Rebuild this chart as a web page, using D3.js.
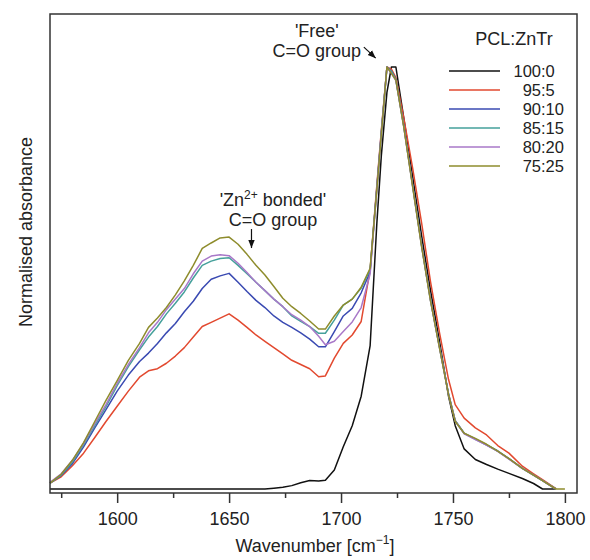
<!DOCTYPE html>
<html>
<head>
<meta charset="utf-8">
<script src="https://cdn.jsdelivr.net/npm/d3@7"></script>
<style>
  body { margin: 0; background: #fff; }
  text { font-family: "Liberation Sans", Arial, Helvetica, sans-serif; fill: #222; }
</style>
</head>
<body>
<svg width="590" height="560"></svg>
<script>
// wavenumber grid (cm-1)
const wavenumbers = [1570, 1575, 1580, 1585, 1590, 1595, 1600, 1605, 1610, 1614, 1618, 1622, 1626, 1630,
  1634, 1638, 1642, 1646, 1650, 1654, 1658, 1662, 1666, 1670, 1674, 1678, 1682, 1686, 1690, 1693, 1697,
  1701, 1705, 1709, 1713, 1716, 1718, 1720.5, 1722.5, 1724.5, 1728, 1732, 1736, 1740, 1744, 1748, 1751,
  1755, 1760, 1765, 1770, 1775, 1781, 1786, 1790, 1796, 1800];

const ratios = ['100:0', '95:5', '90:10', '85:15', '80:20', '75:25'];
const colors = ['#111111', '#e2492f', '#3a4ab2', '#45a09b', '#a878c8', '#8e8c2c'];

const pcl100 = [0, 0, 0, 0, 0, 0, 0, 0, 0, 0, 0, 0, 0, 0,
  0, 0, 0, 0, 0, 0, 0, 0, 0, 0.002, 0.004, 0.008, 0.015, 0.02, 0.019, 0.021, 0.045,
  0.1, 0.15, 0.22, 0.34, 0.63, 0.79, 0.94, 1.0, 1.0, 0.88, 0.74, 0.6, 0.47, 0.35, 0.22, 0.15,
  0.095, 0.07, 0.058, 0.047, 0.037, 0.025, 0.013, 0.0, 0.0, null];
const pcl95 = [0.014, 0.029, 0.055, 0.085, 0.122, 0.16, 0.196, 0.232, 0.265, 0.28, 0.285, 0.298, 0.315, 0.335,
  0.36, 0.385, 0.395, 0.405, 0.415, 0.4, 0.383, 0.365, 0.35, 0.335, 0.32, 0.305, 0.295, 0.285, 0.266, 0.268, 0.31,
  0.345, 0.365, 0.397, 0.52, 0.72, 0.85, 1.0, 0.995, 0.975, 0.88, 0.76, 0.63, 0.49, 0.37, 0.26, 0.2,
  0.168, 0.145, 0.128, 0.103, 0.085, 0.054, 0.036, 0.022, 0.001, null];
const pcl90 = [0.014, 0.032, 0.06, 0.1, 0.145, 0.188, 0.232, 0.27, 0.302, 0.322, 0.345, 0.37, 0.392, 0.42,
  0.445, 0.475, 0.497, 0.505, 0.511, 0.49, 0.468, 0.447, 0.43, 0.41, 0.395, 0.383, 0.37, 0.355, 0.337, 0.337, 0.373,
  0.41, 0.428, 0.465, 0.515, 0.715, 0.845, 1.0, 0.99, 0.97, 0.862, 0.72, 0.578, 0.448, 0.337, 0.226, 0.162,
  0.132, 0.118, 0.104, 0.09, 0.072, 0.049, 0.033, 0.02, 0.0, null];
const pcl85 = [0.014, 0.033, 0.064, 0.105, 0.15, 0.195, 0.245, 0.29, 0.33, 0.36, 0.385, 0.415, 0.44, 0.467,
  0.5, 0.53, 0.54, 0.546, 0.548, 0.53, 0.51, 0.49, 0.47, 0.45, 0.432, 0.41, 0.397, 0.385, 0.369, 0.369, 0.4,
  0.436, 0.45, 0.476, 0.52, 0.712, 0.842, 1.0, 0.99, 0.97, 0.86, 0.718, 0.576, 0.446, 0.335, 0.225, 0.162,
  0.132, 0.118, 0.105, 0.09, 0.072, 0.049, 0.033, 0.02, 0.0, null];
const pcl80 = [0.016, 0.036, 0.068, 0.108, 0.155, 0.2, 0.25, 0.295, 0.335, 0.37, 0.395, 0.425, 0.45, 0.475,
  0.51, 0.54, 0.552, 0.555, 0.553, 0.535, 0.513, 0.49, 0.47, 0.45, 0.432, 0.413, 0.4, 0.385, 0.362, 0.342, 0.35,
  0.373, 0.396, 0.43, 0.51, 0.71, 0.84, 1.0, 0.985, 0.968, 0.86, 0.716, 0.575, 0.445, 0.334, 0.224, 0.161,
  0.131, 0.117, 0.104, 0.089, 0.071, 0.049, 0.033, 0.02, 0.0, null];
const pcl75 = [0.014, 0.035, 0.068, 0.11, 0.16, 0.21, 0.257, 0.305, 0.345, 0.383, 0.405, 0.43, 0.46, 0.493,
  0.53, 0.57, 0.583, 0.595, 0.597, 0.58, 0.556, 0.53, 0.507, 0.48, 0.452, 0.432, 0.416, 0.398, 0.379, 0.379, 0.41,
  0.436, 0.45, 0.478, 0.523, 0.71, 0.84, 1.0, 0.985, 0.969, 0.859, 0.716, 0.574, 0.445, 0.334, 0.224, 0.16,
  0.132, 0.12, 0.106, 0.09, 0.072, 0.049, 0.033, 0.02, 0.0, 0.0];

const xTicks = [1600, 1650, 1700, 1750, 1800];
const xMinorTicks = [1575, 1625, 1675, 1725, 1775];

const seriesValues = [pcl100, pcl95, pcl90, pcl85, pcl80, pcl75];

const frame = { left: 50, top: 14, right: 577, bottom: 493 };

const svg = d3.select('svg');

const x = d3.scaleLinear()
  .domain([1570, 1805.4])
  .range([frame.left, frame.right]);
const y = d3.scaleLinear()
  .domain([0, 1])
  .range([489, 67]);

// curves
const line = d3.line()
  .defined(d => d.v !== null)
  .x(d => x(d.w))
  .y(d => y(d.v));

const plot = svg.append('g');
seriesValues.forEach((vals, i) => {
  const pts = wavenumbers.map((w, j) => ({ w, v: vals[j] }));
  plot.append('path')
    .datum(pts)
    .attr('fill', 'none')
    .attr('stroke', colors[i])
    .attr('stroke-width', 1.5)
    .attr('stroke-linejoin', 'round')
    .attr('d', line);
});

// frame
svg.append('rect')
  .attr('x', frame.left)
  .attr('y', frame.top)
  .attr('width', frame.right - frame.left)
  .attr('height', frame.bottom - frame.top)
  .attr('fill', 'none')
  .attr('stroke', '#333')
  .attr('stroke-width', 1.5);

// x axis
const axisMajor = d3.axisBottom(x)
  .tickValues(xTicks)
  .tickSize(10)
  .tickPadding(9)
  .tickFormat(d3.format('d'));
const gx = svg.append('g')
  .attr('transform', `translate(0,${frame.bottom})`)
  .call(axisMajor);
gx.select('.domain').remove();
gx.selectAll('.tick line').attr('stroke', '#333').attr('stroke-width', 1.5);
gx.selectAll('.tick text')
  .style('font-family', '"Liberation Sans", Arial, sans-serif')
  .style('font-size', '18px')
  .attr('fill', '#222');

const axisMinor = d3.axisBottom(x)
  .tickValues(xMinorTicks)
  .tickSize(5)
  .tickFormat('');
const gxm = svg.append('g')
  .attr('transform', `translate(0,${frame.bottom})`)
  .call(axisMinor);
gxm.select('.domain').remove();
gxm.selectAll('.tick line').attr('stroke', '#333').attr('stroke-width', 1.5);

// axis titles
const xTitle = svg.append('text')
  .attr('x', 315)
  .attr('y', 552)
  .attr('text-anchor', 'middle')
  .style('font-size', '18px');
xTitle.append('tspan').text('Wavenumber [cm');
xTitle.append('tspan').attr('dy', -8).style('font-size', '12px').text('\u22121');
xTitle.append('tspan').attr('dy', 8).text(']');

svg.append('text')
  .attr('transform', 'translate(32,232) rotate(-90)')
  .attr('text-anchor', 'middle')
  .style('font-size', '18px')
  .text('Normalised absorbance');

// annotations
const zn = svg.append('text')
  .attr('x', x(1669.6))
  .attr('y', 206)
  .attr('text-anchor', 'middle')
  .style('font-size', '18px');
zn.append('tspan').text('\'Zn');
zn.append('tspan').attr('dy', -7).style('font-size', '12px').text('2+');
zn.append('tspan').attr('dy', 7).text(' bonded\'');
svg.append('text')
  .attr('x', x(1669.6))
  .attr('y', 226)
  .attr('text-anchor', 'middle')
  .style('font-size', '18px')
  .text('C=O group');

svg.append('text')
  .attr('x', x(1689.2))
  .attr('y', 37)
  .attr('text-anchor', 'middle')
  .style('font-size', '18px')
  .text('\'Free\'');
svg.append('text')
  .attr('x', x(1689.2))
  .attr('y', 57)
  .attr('text-anchor', 'middle')
  .style('font-size', '18px')
  .text('C=O group');

svg.append('defs').append('marker')
  .attr('id', 'arrow')
  .attr('viewBox', '0 0 10 10')
  .attr('refX', 10)
  .attr('refY', 5)
  .attr('markerWidth', 8)
  .attr('markerHeight', 8)
  .attr('markerUnits', 'userSpaceOnUse')
  .attr('orient', 'auto')
  .append('path')
  .attr('d', 'M0,1 L10,5 L0,9 Z')
  .attr('fill', '#111');

const arrows = [
  { w0: 1660, v0: 0.616, w1: 1660, v1: 0.571 },
  { w0: 1710.2, v0: 1.047, w1: 1715.5, v1: 1.021 }
];
svg.selectAll('.arrow')
  .data(arrows)
  .enter().append('line')
  .attr('class', 'arrow')
  .attr('x1', d => x(d.w0))
  .attr('y1', d => y(d.v0))
  .attr('x2', d => x(d.w1))
  .attr('y2', d => y(d.v1))
  .attr('stroke', '#111')
  .attr('stroke-width', 1.2)
  .attr('marker-end', 'url(#arrow)');

// legend
svg.append('text')
  .attr('x', 514)
  .attr('y', 45)
  .attr('text-anchor', 'middle')
  .style('font-size', '18px')
  .text('PCL:ZnTr');

const colonX = 541;
const legend = svg.append('g').attr('class', 'legend');
const rows = legend.selectAll('g')
  .data(ratios)
  .enter().append('g')
  .attr('transform', (d, i) => `translate(0,${71 + i * 19})`);
rows.append('line')
  .attr('x1', 449)
  .attr('x2', 500)
  .attr('stroke', (d, i) => colors[i])
  .attr('stroke-width', 1.5);
// one text per row, shifted so that the colons line up
rows.append('text')
  .attr('y', 6)
  .style('font-size', '16.5px')
  .each(function (d) {
    const t = d3.select(this);
    const head = t.append('tspan').text(d.split(':')[0]);
    t.append('tspan').text(':' + d.split(':')[1]);
    const w = head.node().getComputedTextLength();
    t.attr('x', colonX - w);
  });
</script>
</body>
</html>
